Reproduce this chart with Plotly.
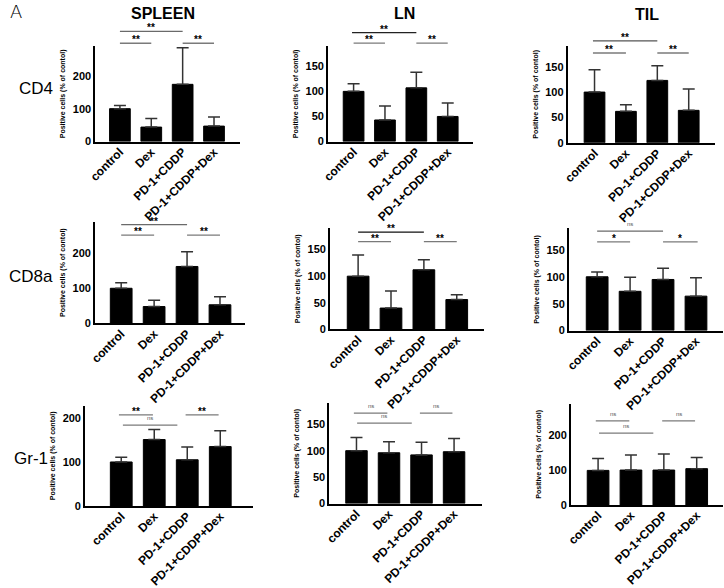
import plotly.graph_objects as go

# ---------------- data ----------------
categories = ["control", "Dex", "PD-1+CDDP", "PD-1+CDDP+Dex"]
tissues = ["SPLEEN", "LN", "TIL"]
markers = ["CD4", "CD8a", "Gr-1"]
y_title = "Positive cells (% of contol)"

spleen_cd4_mean = [100, 44, 174, 47]
spleen_cd4_err = [10, 26, 111, 28]
ln_cd4_mean = [100, 43, 107, 50]
ln_cd4_err = [15, 28, 31, 27]
til_cd4_mean = [100, 62, 123, 64]
til_cd4_err = [44, 13, 29, 42]

spleen_cd8a_mean = [100, 48, 162, 53]
spleen_cd8a_err = [16, 18, 42, 23]
ln_cd8a_mean = [100, 40, 112, 56]
ln_cd8a_err = [40, 32, 19, 9]
til_cd8a_mean = [100, 73, 95, 64]
til_cd8a_err = [9, 26, 21, 34]

spleen_gr1_mean = [100, 151, 105, 135]
spleen_gr1_err = [11, 23, 29, 36]
ln_gr1_mean = [100, 96, 92, 98]
ln_gr1_err = [25, 21, 24, 25]
til_gr1_mean = [99, 100, 100, 104]
til_gr1_err = [34, 43, 46, 32]

# significance brackets: (from index, to index, height in data units, label)
spleen_cd4_sig = [(0, 2, 335, "**"), (0, 1, 299, "**"), (2, 3, 299, "**")]
ln_cd4_sig = [(-0.05, 2, 217, "**"), (0, 1, 196, "**"), (2, 3, 196, "**")]
til_cd4_sig = [(-0.05, 2, 201, "**"), (-0.05, 1, 177, "**"), (2, 3, 177, "**")]
spleen_cd8a_sig = [(0, 2, 281, "**"), (0, 1, 251, "**"), (2, 3, 251, "**")]
ln_cd8a_sig = [(0, 2, 183, "**"), (0, 1, 165, "**"), (2, 3, 165, "**")]
til_cd8a_sig = [(0, 2, 185, "ns"), (0, 1, 165, "*"), (2, 3.05, 165, "*")]
spleen_gr1_sig = [(-0.07, 0.96, 207, "**"), (1.95, 2.95, 207, "**"), (0.05, 1.7, 184, "ns")]
ln_gr1_sig = [(-0.08, 0.95, 171, "ns"), (1.95, 2.95, 171, "ns"), (0.02, 1.7, 152, "ns")]
til_gr1_sig = [(-0.07, 0.95, 241, "ns"), (1.95, 2.95, 241, "ns"), (0.03, 1.68, 206, "ns")]

panels = [
    (spleen_cd4_mean, spleen_cd4_err, spleen_cd4_sig),
    (ln_cd4_mean, ln_cd4_err, ln_cd4_sig),
    (til_cd4_mean, til_cd4_err, til_cd4_sig),
    (spleen_cd8a_mean, spleen_cd8a_err, spleen_cd8a_sig),
    (ln_cd8a_mean, ln_cd8a_err, ln_cd8a_sig),
    (til_cd8a_mean, til_cd8a_err, til_cd8a_sig),
    (spleen_gr1_mean, spleen_gr1_err, spleen_gr1_sig),
    (ln_gr1_mean, ln_gr1_err, ln_gr1_sig),
    (til_gr1_mean, til_gr1_err, til_gr1_sig),
]

# ---------------- layout geometry / styles (pixels) ----------------
W, H = 724, 588
# (x_left, x_right, y_top, y_bottom) of each plot area
geom = [
    (89, 235, 47, 144), (324, 471, 47, 144), (566, 715, 46.7, 145.3),
    (88.7, 240, 225.7, 329), (326, 481.7, 232.3, 335), (567.3, 723, 232.3, 336.3),
    (78.7, 248, 412.7, 514.7), (325.3, 480, 410, 512.3), (569.3, 723, 410.7, 513.7),
]
x_ranges = [(-0.79, 3.82), (-0.82, 3.82), (-0.86, 3.84),
            (-0.8, 3.75), (-0.86, 3.83), (-0.86, 3.82),
            (-1.1, 3.98), (-0.84, 3.87), (-0.83, 3.8)]
y_tops = [290, 190, 191, 289, 190, 190, 228, 190, 290]
y_dticks = [100, 50, 50, 100, 50, 50, 100, 50, 100]
# colour of the first (long) bracket line in each panel
first_line_colors = ["#6a6a6a", "#222222", "#555555",
                     "#6a6a6a", "#111111", "#6a6a6a",
                     "#7a7a7a", "#7a7a7a", "#7a7a7a"]

FONT = "Arial, Liberation Sans, sans-serif"

fig = go.Figure()
shapes = []
annotations = []

for k, (mean, err, sig) in enumerate(panels):
    ax = "" if k == 0 else str(k + 1)
    xl, xr, yt, yb = geom[k]
    fig.add_trace(go.Bar(
        x=categories, y=mean,
        xaxis="x" + ax, yaxis="y" + ax,
        marker=dict(color="black", line=dict(color="black", width=1)),
        error_y=dict(type="data", array=err, arrayminus=[0] * len(err),
                     symmetric=False, color="#333333", thickness=1.5, width=6),
        showlegend=False, hoverinfo="x+y",
    ))
    fig.layout["xaxis" + ax] = dict(
        domain=[xl / W, xr / W], anchor="y" + ax,
        range=list(x_ranges[k]), type="category",
        showline=True, linecolor="black", linewidth=1.5, mirror=False,
        ticks="", showgrid=False, zeroline=False, tickangle=-45,
        ticklabelstandoff=-3,
        tickfont=dict(family=FONT, size=12, color="black", weight="bold"),
    )
    fig.layout["yaxis" + ax] = dict(
        domain=[1 - yb / H, 1 - yt / H], anchor="x" + ax,
        range=[0, y_tops[k]], dtick=y_dticks[k], tick0=0,
        showline=True, linecolor="black", linewidth=1.5,
        ticks="", showgrid=False, zeroline=False,
        tickfont=dict(family=FONT, size=11, color="black", weight="bold"),
        title=dict(text=y_title, standoff=6,
                   font=dict(family=FONT, size=7, color="black", weight="bold")),
    )
    for n, (i0, i1, lvl, lab) in enumerate(sig):
        yd = lvl / y_tops[k]
        lc = first_line_colors[k] if n == 0 else "#7a7a7a"
        shapes.append(dict(type="line", xref="x" + ax, yref="y" + ax + " domain",
                           x0=i0, x1=i1, y0=yd, y1=yd,
                           line=dict(color=lc, width=1.3)))
        is_ns = lab == "ns"
        annotations.append(dict(
            xref="x" + ax, yref="y" + ax + " domain", x=(i0 + i1) / 2, y=yd,
            text=lab, showarrow=False, yanchor="bottom",
            yshift=2 if is_ns else -4,
            font=dict(family=FONT, size=6 if is_ns else 10,
                      color="#555" if is_ns else "black",
                      weight="normal" if is_ns else "bold"),
        ))

# column titles
title_pos = [(158, 14), (401.7, 14), (646, 15)]
for t, (px, py) in zip(tissues, title_pos):
    annotations.append(dict(xref="paper", yref="paper", x=px / W, y=1 - py / H,
                            text=t, showarrow=False, xanchor="center", yanchor="middle",
                            font=dict(family=FONT, size=16, color="black", weight="bold")))
# row labels
row_pos = [(29, 90), (24, 281.7), (24, 466)]
for m, (px, py) in zip(markers, row_pos):
    annotations.append(dict(xref="paper", yref="paper", x=px / W, y=1 - py / H,
                            text=m, showarrow=False, xanchor="center", yanchor="middle",
                            font=dict(family=FONT, size=17, color="black")))
# panel letter
annotations.append(dict(xref="paper", yref="paper", x=9 / W, y=1 - 11.5 / H,
                        text="A", showarrow=False, xanchor="center", yanchor="middle",
                        font=dict(family="DejaVu Sans", size=18, color="black", weight=200)))

fig.update_layout(
    width=W, height=H,
    margin=dict(l=0, r=0, t=0, b=0),
    paper_bgcolor="white", plot_bgcolor="white",
    bargap=0.34,
    shapes=shapes, annotations=annotations,
    font=dict(family=FONT, color="black"),
)

fig.write_html("out.html",
               config={"displayModeBar": False},
               post_script="document.body.style.margin='0';document.body.style.overflow='hidden';")
